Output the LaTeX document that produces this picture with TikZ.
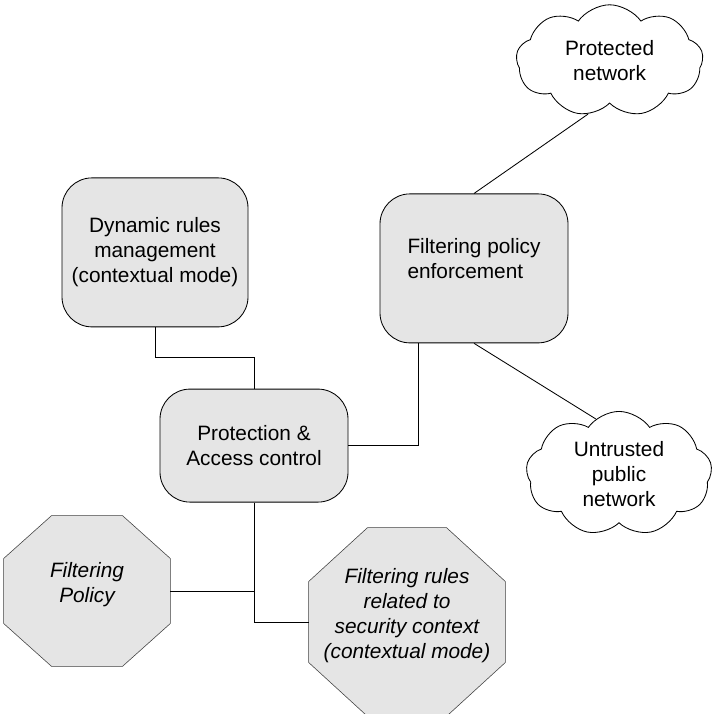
\documentclass[tikz,border=0pt]{standalone}
\usepackage{fontspec}
\setmainfont{Liberation Sans}
\usepackage{tikz}
\usetikzlibrary{calc,backgrounds,shapes.symbols}
\colorlet{boxfill}{black!10}
% octagon drawn round a named node: node, x cut, y cut
\newcommand{\octoround}[3]{%
  \begin{scope}[on background layer]
    \draw[draw=black!75, fill=boxfill]
      ($(#1.north west)+(#2,0)$) -- ($(#1.north east)+(-#2,0)$) -- ($(#1.north east)+(0,-#3)$)
      -- ($(#1.south east)+(0,#3)$) -- ($(#1.south east)+(-#2,0)$) -- ($(#1.south west)+(#2,0)$)
      -- ($(#1.south west)+(0,#3)$) -- ($(#1.north west)+(0,-#3)$) -- cycle;
  \end{scope}}

\begin{document}
\begin{tikzpicture}[font=\fontsize{14.8pt}{17.8pt}\selectfont, line width=0.6pt,
    roundbox/.style={draw, fill=boxfill, rounded corners=0.75cm, align=center},
    octo/.style={align=center, font=\fontsize{14.8pt}{17.8pt}\selectfont\itshape},
    netcloud/.style={draw, cloud, cloud puffs=9, cloud puff arc=110, cloud ignores aspect, align=center, fill=white}]
    \useasboundingbox (0,0) rectangle (17.825,17.85);
    % boxes
    \node[roundbox, minimum width=4.65cm, minimum height=3.725cm] (dyn) at (3.875,11.54) {Dynamic rules\\management\\(contextual mode)};
    \node[roundbox, minimum width=4.7cm, minimum height=2.825cm] (prot) at (6.35,6.71) {Protection \&\\Access control};
    \node[roundbox, minimum width=4.7cm, minimum height=3.725cm, align=left, text depth=0.5cm] (enf) at (11.85,11.14) {Filtering policy\\enforcement};
    % clouds
    \node[netcloud, minimum width=4.675cm, minimum height=2.8cm] (pnet) at (15.24,16.33) {Protected\\network};
    \node[netcloud, minimum width=4.65cm, minimum height=3.075cm] (unet) at (15.475,6.01) {Untrusted\\public\\network};
    % policies
    \node[octo, minimum width=4.15cm, minimum height=3.75cm, text depth=0.42cm] (fp) at (2.175,3.075) {Filtering\\Policy};
    \octoround{fp}{1.2cm}{1.075cm}
    \node[octo, minimum width=4.9cm, minimum height=4.7cm, text depth=0.45cm] (rules) at (10.175,2.3) {Filtering rules\\related to\\security context\\(contextual mode)};
    \octoround{rules}{1.475cm}{1.35cm}
    % links
    \draw (dyn.south) -- ++(0,-0.75) -| (prot.north);
    \draw (prot.east) -| ([xshift=-1.4cm]enf.south);
    \draw (enf.north) -- (pnet.248);
    \draw (enf.south) -- (unet.113);
    \draw (prot.south) |- (fp.east);
    \draw (prot.south) |- (rules.west);
\end{tikzpicture}
\end{document}
